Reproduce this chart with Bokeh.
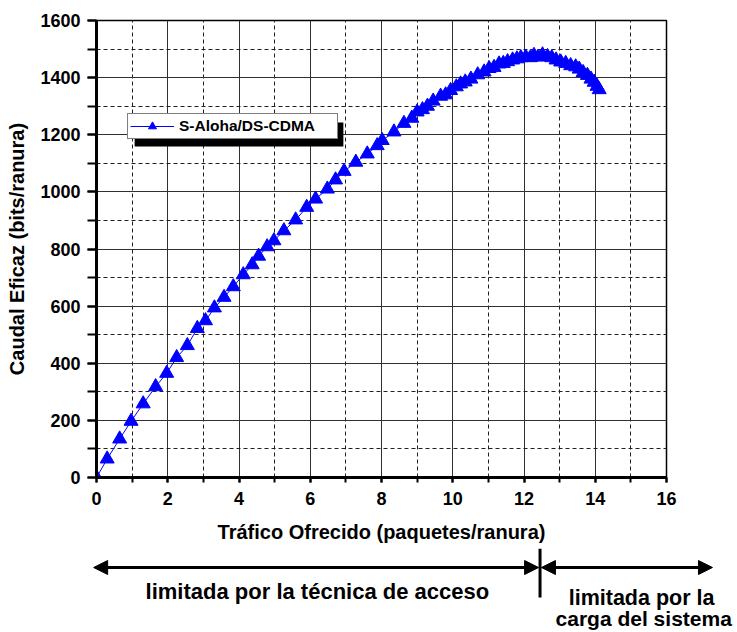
from bokeh.plotting import figure
from bokeh.models import (Range1d, SingleIntervalTicker, Legend, LegendItem,
                          BoxAnnotation, Arrow, NormalHead, Label)
from bokeh.layouts import column
from bokeh.embed import file_html
from bokeh.resources import INLINE

# ---------------- data ----------------
traffic = [0.00, 0.30, 0.65, 0.97, 1.31, 1.66, 1.97, 2.25, 2.55, 2.83, 3.06, 3.31,
           3.58, 3.84, 4.12, 4.37, 4.55, 4.79, 4.98, 5.26, 5.59, 5.90, 6.15, 6.48,
           6.71, 6.95, 7.28, 7.60, 7.88, 8.02, 8.35, 8.63, 8.85, 9.00, 9.15, 9.29,
           9.45, 9.66, 9.80, 9.94, 10.10, 10.22, 10.35, 10.51, 10.70, 10.88, 11.02,
           11.16, 11.30, 11.42, 11.54, 11.68, 11.80, 11.91, 12.05, 12.18, 12.28,
           12.40, 12.52, 12.66, 12.78, 12.90, 13.03, 13.17, 13.31, 13.45, 13.55,
           13.66, 13.78, 13.88, 13.97, 14.05, 14.11]
throughput = [0, 65, 135, 197, 258, 318, 365, 420, 462, 522, 549, 594,
              631, 668, 710, 745, 775, 808, 829, 864, 902, 946, 975, 1010,
              1042, 1072, 1104, 1133, 1162, 1180, 1210, 1240, 1258, 1280, 1288, 1300,
              1318, 1335, 1340, 1355, 1368, 1378, 1385, 1395, 1410, 1420, 1432,
              1436, 1448, 1450, 1456, 1462, 1466, 1470, 1472, 1470, 1478,
              1472, 1480, 1474, 1470, 1462, 1455, 1450, 1442, 1438, 1430,
              1418, 1408, 1395, 1384, 1370, 1358]
series_name = "S-Aloha/DS-CDMA"
x_title = "Tráfico Ofrecido (paquetes/ranura)"
y_title = "Caudal Eficaz (bits/ranura)"
region_left = "limitada por la técnica de acceso"
region_right_1 = "limitada por la"
region_right_2 = "carga del sistema"
boundary = 12.45     # traffic at which the regime changes (peak)
x_min, x_max = 0, 16
y_min, y_max = 0, 1600

FONT = "Liberation Sans"

# ---------------- main plot ----------------
p = figure(width=737, height=548,
           x_range=Range1d(x_min, x_max), y_range=Range1d(y_min, y_max),
           output_backend="svg", toolbar_location=None,
           min_border_left=96, min_border_right=71,
           min_border_top=20, min_border_bottom=71,
           background_fill_color="white", border_fill_color="white")

xt = SingleIntervalTicker(interval=2, num_minor_ticks=2)
yt = SingleIntervalTicker(interval=200, num_minor_ticks=2)
p.xaxis.ticker = xt
p.yaxis.ticker = yt
p.xgrid.ticker = xt
p.ygrid.ticker = yt

for g in (p.xgrid, p.ygrid):
    g.grid_line_color = "#303030"
    g.grid_line_width = 1
    g.minor_grid_line_color = "#202020"
    g.minor_grid_line_width = 1
    g.minor_grid_line_dash = "4 3"

p.outline_line_color = "black"
p.outline_line_width = 1.5

for ax in (p.xaxis, p.yaxis):
    ax.axis_line_width = 3
    ax.axis_line_color = "black"
    ax.major_tick_in = 0
    ax.minor_tick_in = 0
    ax.major_tick_line_width = 2
    ax.minor_tick_line_width = 2
    ax.major_tick_line_color = "black"
    ax.minor_tick_line_color = "black"
    ax.major_label_text_font = FONT
    ax.major_label_text_font_style = "bold"
    ax.major_label_text_font_size = "18px"
    ax.major_label_text_color = "black"
    ax.axis_label_text_font = FONT
    ax.axis_label_text_font_style = "bold"
    ax.axis_label_text_color = "black"

p.xaxis.major_tick_out = 5
p.xaxis.minor_tick_out = 5
p.xaxis.major_label_standoff = 9
p.xaxis.axis_label = x_title
p.xaxis.axis_label_text_font_size = "20px"
p.xaxis.axis_label_standoff = 13

p.yaxis.major_tick_out = 9
p.yaxis.minor_tick_out = 9
p.yaxis.major_label_standoff = 7
p.yaxis.axis_label = y_title
p.yaxis.axis_label_text_font_size = "20px"
p.yaxis.axis_label_standoff = 9

line_r = p.line(traffic, throughput, line_color="#0000ff", line_width=1)
mark_r = p.scatter(traffic, throughput, marker="triangle", size=14,
                   fill_color="#0000ff", line_color="#0000ff")

# legend with drop shadow
shadow = BoxAnnotation(left=1.07, right=6.93, top=1243, bottom=1159,
                       fill_color="black", fill_alpha=1.0, line_color=None)
p.add_layout(shadow)

legend = Legend(items=[LegendItem(label=series_name, renderers=[line_r, mark_r])],
                location=(31, 338), padding=2, margin=0, spacing=0,
                glyph_width=44, glyph_height=20, label_height=20,
                label_width=156, label_standoff=5,
                border_line_color="black", border_line_width=1,
                background_fill_color="white", background_fill_alpha=1.0,
                label_text_font=FONT, label_text_font_style="bold",
                label_text_font_size="15.5px", label_text_color="black")
p.add_layout(legend)

# ---------------- annotation strip below ----------------
px_per_unit = 570 / (x_max - x_min)
p2 = figure(width=737, height=84,
            x_range=Range1d(x_min - 96 / px_per_unit, x_min + 641 / px_per_unit),
            y_range=Range1d(84, 0),
            output_backend="svg", toolbar_location=None,
            x_axis_type=None, y_axis_type=None,
            min_border_left=0, min_border_right=0,
            min_border_top=0, min_border_bottom=0,
            outline_line_color=None, background_fill_color="white",
            border_fill_color="white")
p2.frame_align = False
p.frame_align = False
p2.grid.visible = False

arrow_y = 19
p2.add_layout(Arrow(start=NormalHead(size=14, fill_color="black", line_color="black"),
                    end=NormalHead(size=14, fill_color="black", line_color="black"),
                    x_start=boundary - 0.04, y_start=arrow_y, x_end=-0.08, y_end=arrow_y,
                    line_width=3, line_color="black"))
p2.add_layout(Arrow(start=NormalHead(size=14, fill_color="black", line_color="black"),
                    end=NormalHead(size=14, fill_color="black", line_color="black"),
                    x_start=boundary + 0.04, y_start=arrow_y, x_end=17.29, y_end=arrow_y,
                    line_width=3, line_color="black"))
p2.segment(x0=[boundary], y0=[0], x1=[boundary], y1=[49],
           line_width=3, line_color="black")

for txt, tx, ty, fs in ((region_left, 6.2, 43, "22px"),
                        (region_right_1, 15.3, 49, "21.5px"),
                        (region_right_2, 15.36, 70, "21px")):
    p2.add_layout(Label(x=tx, y=ty, text=txt, text_align="center",
                        text_baseline="middle", text_font=FONT,
                        text_font_style="bold", text_font_size=fs,
                        text_color="black"))

layout = column(p, p2, spacing=0)
open("out.html", "w").write(file_html(layout, INLINE))
